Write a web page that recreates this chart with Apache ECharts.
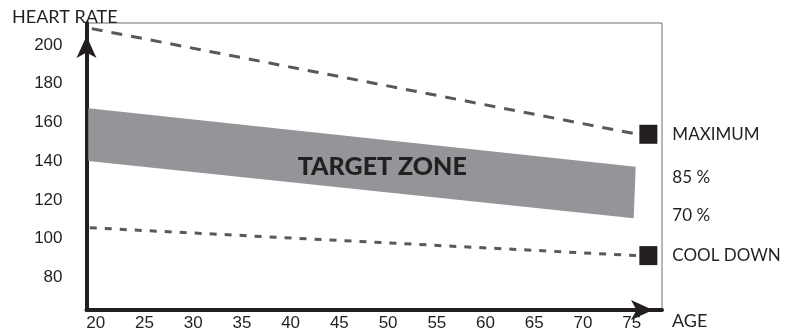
<!DOCTYPE html>
<html><head><meta charset="utf-8">
<script src="https://cdn.jsdelivr.net/npm/echarts@6/dist/echarts.min.js"></script>
<style>html,body{margin:0;padding:0;background:#fff}#c{width:794px;height:333px}</style>
</head><body><div id="c"></div>
<script>
const ageTicks = [20, 25, 30, 35, 40, 45, 50, 55, 60, 65, 70, 75];
const hrTicks = [80, 100, 120, 140, 160, 180, 200];
const maxAges = [19.6, 75.6];
const maxHR = [208.5, 153.9];
const coolAges = [19.4, 75.6];
const coolHR = [105.6, 91.2];
const zoneTopAges = [19.24, 75.4];
const zoneBottomAges = [19.24, 75.2];
const zoneHigh = [167.3, 137.1];
const zoneLow = [140.1, 110.5];
const markerAge = 76.7;
const markerHR = [153.9, 91.2];
const markerNames = ['MAXIMUM', 'COOL DOWN'];
const pctHR = [131.7, 111.7];
const pctNames = ['85 %', '70 %'];
const zoneLabel = 'TARGET ZONE';
const zoneLabelPos = [49.4, 137.2];

const ink = '#231f20';
const dashColor = '#58595b';
const labelFont = 'Lato';
const chart = echarts.init(document.getElementById('c'), null, {renderer: 'canvas'});
const sideLabel = {show: true, position: 'right', distance: 15, formatter: '{b}', fontFamily: labelFont, fontSize: 17, color: ink, opacity: 1};
chart.setOption({
  animation: false,
  title: {text: 'HEART RATE', left: 7, top: 3, textStyle: {fontFamily: labelFont, fontSize: 18, fontWeight: 'normal', color: ink}},
  grid: {left: 86.5, right: 132, top: 23, bottom: 23, show: true, borderColor: '#6d6e71', borderWidth: 1, containLabel: false},
  xAxis: {
    type: 'value', min: 19.06, max: 78.1,
    name: 'AGE', nameLocation: 'end', nameGap: 10,
    nameTextStyle: {fontFamily: labelFont, fontSize: 18, color: ink, verticalAlign: 'top', padding: [2, 0, 0, 0]},
    axisLine: {show: true, onZero: false, lineStyle: {color: ink, width: 4}, symbol: ['none', 'arrow'], symbolSize: [15, 22], symbolOffset: [0, -9]},
    axisTick: {show: false},
    splitLine: {show: false},
    axisLabel: {customValues: ageTicks, margin: 5, fontFamily: 'Liberation Sans', fontSize: 17, color: ink}
  },
  yAxis: {
    type: 'value', min: 63.1, max: 211.4,
    axisLine: {show: true, onZero: false, lineStyle: {color: ink, width: 4}, symbol: ['none', 'arrow'], symbolSize: [15, 22], symbolOffset: [0, -13]},
    axisTick: {show: false},
    splitLine: {show: false},
    axisLabel: {customValues: hrTicks, margin: 24, fontFamily: 'Liberation Sans', fontSize: 17, color: ink}
  },
  series: [
    {
      type: 'custom', silent: true, z: 1,
      data: [[zoneTopAges[0], zoneHigh[0]]],
      renderItem: function (params, api) {
        return {
          type: 'polygon',
          shape: {points: [
            api.coord([zoneTopAges[0], zoneHigh[0]]),
            api.coord([zoneTopAges[1], zoneHigh[1]]),
            api.coord([zoneBottomAges[1], zoneLow[1]]),
            api.coord([zoneBottomAges[0], zoneLow[0]])
          ]},
          style: {fill: '#939598'}
        };
      }
    },
    {
      type: 'line', symbol: 'none', z: 2,
      data: maxAges.map((a, i) => [a, maxHR[i]]),
      lineStyle: {color: dashColor, width: 3, type: [11, 9]}
    },
    {
      type: 'line', symbol: 'none', z: 2,
      data: coolAges.map((a, i) => [a, coolHR[i]]),
      lineStyle: {color: dashColor, width: 3, type: [7, 8]}
    },
    {
      type: 'scatter', symbol: 'rect', symbolSize: [18, 19], z: 3, silent: true,
      itemStyle: {color: ink, opacity: 1},
      label: sideLabel,
      data: markerHR.map((v, i) => ({name: markerNames[i], value: [markerAge, v]}))
    },
    {
      type: 'scatter', symbol: 'rect', symbolSize: [18, 19], z: 3, silent: true,
      itemStyle: {color: 'rgba(0,0,0,0)', opacity: 1},
      label: sideLabel,
      data: pctHR.map((v, i) => ({name: pctNames[i], value: [markerAge, v]}))
    },
    {
      type: 'scatter', symbolSize: 1, z: 4, silent: true,
      itemStyle: {color: 'rgba(0,0,0,0)', opacity: 1},
      label: {show: true, position: 'inside', formatter: '{b}', fontFamily: labelFont, fontSize: 25, fontWeight: 900, color: ink, opacity: 1},
      data: [{name: zoneLabel, value: zoneLabelPos}]
    }
  ]
});
</script></body></html>
